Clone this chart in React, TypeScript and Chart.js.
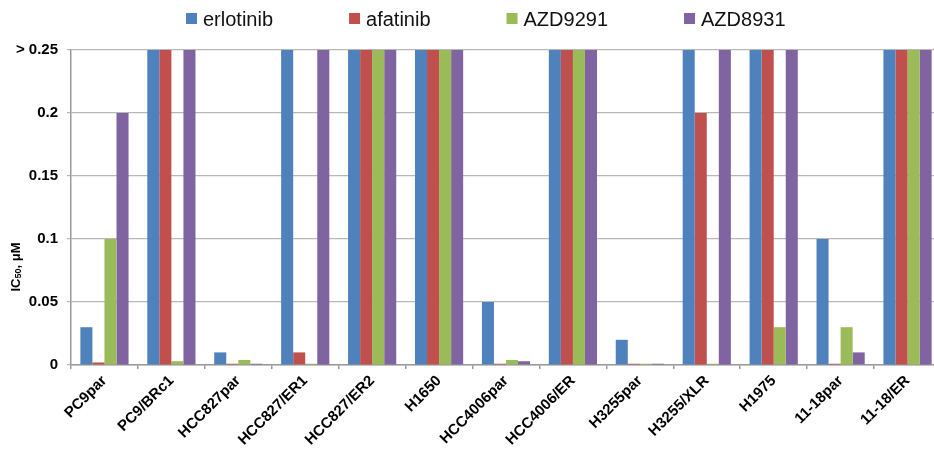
import React, { useEffect, useRef } from "react";
import { Chart, registerables } from "chart.js";

Chart.register(...registerables);

// Cell lines on the x axis
const cellLines = [
  "PC9par",
  "PC9/BRc1",
  "HCC827par",
  "HCC827/ER1",
  "HCC827/ER2",
  "H1650",
  "HCC4006par",
  "HCC4006/ER",
  "H3255par",
  "H3255/XLR",
  "H1975",
  "11-18par",
  "11-18/ER",
];

// IC50 values in µM; 0.25 stands for "> 0.25" (bar capped at the top of the axis)
const erlotinib = [0.03, 0.25, 0.01, 0.25, 0.25, 0.25, 0.05, 0.25, 0.02, 0.25, 0.25, 0.1, 0.25];
const afatinib = [0.002, 0.25, 0.001, 0.01, 0.25, 0.25, 0.001, 0.25, 0.001, 0.2, 0.25, 0.001, 0.25];
const azd9291 = [0.1, 0.003, 0.004, 0.001, 0.25, 0.25, 0.004, 0.25, 0.001, 0.001, 0.03, 0.03, 0.25];
const azd8931 = [0.2, 0.25, 0.001, 0.25, 0.25, 0.25, 0.003, 0.25, 0.001, 0.25, 0.25, 0.01, 0.25];

const seriesNames = ["erlotinib", "afatinib", "AZD9291", "AZD8931"];
const seriesColors = ["#4F81BD", "#C0504D", "#9BBB59", "#8064A2"];

const yMax = 0.25;
const yStep = 0.05;
const capLabel = "> 0.25";

const FONT = "'Liberation Sans', Arial, sans-serif";

// Legend row across the top, built from the datasets
const topLegend = {
  id: "topLegend",
  afterDraw(chart: any) {
    const ctx = chart.ctx;
    ctx.save();
    ctx.font = `20px ${FONT}`;
    ctx.textBaseline = "middle";
    ctx.textAlign = "left";
    let x = 186;
    const yMid = 19;
    chart.data.datasets.forEach((ds: any) => {
      ctx.fillStyle = ds.backgroundColor;
      ctx.fillRect(x, yMid - 6, 11, 11);
      ctx.fillStyle = "#111";
      ctx.fillText(ds.label, x + 17, yMid + 1);
      x += 17 + ctx.measureText(ds.label).width + 76;
    });
    ctx.restore();
  },
};

// Vertical axis title with subscripted "50"
const yTitle = {
  id: "yTitle",
  afterDraw(chart: any) {
    const ctx = chart.ctx;
    const parts = [
      { t: "IC", f: `bold 13px ${FONT}`, dy: 0 },
      { t: "50", f: `bold 9px ${FONT}`, dy: 3 },
      { t: ", μM", f: `bold 13px ${FONT}`, dy: 0 },
    ];
    ctx.save();
    let total = 0;
    parts.forEach((p) => {
      ctx.font = p.f;
      total += ctx.measureText(p.t).width;
    });
    ctx.translate(16, 267);
    ctx.rotate(-Math.PI / 2);
    ctx.textBaseline = "middle";
    ctx.textAlign = "left";
    ctx.fillStyle = "#000";
    let x = -total / 2;
    parts.forEach((p) => {
      ctx.font = p.f;
      ctx.fillText(p.t, x, p.dy);
      x += ctx.measureText(p.t).width;
    });
    ctx.restore();
  },
};

export default function App() {
  const canvasRef = useRef<HTMLCanvasElement | null>(null);

  useEffect(() => {
    const canvas = canvasRef.current;
    if (!canvas) return;
    const data = [erlotinib, afatinib, azd9291, azd8931];
    const chart = new Chart(canvas, {
      type: "bar",
      data: {
        labels: cellLines,
        datasets: data.map((values, i) => ({
          label: seriesNames[i],
          data: values,
          backgroundColor: seriesColors[i],
          borderWidth: 0,
          categoryPercentage: 0.72,
          barPercentage: 1.0,
        })),
      },
      options: {
        responsive: false,
        animation: false,
        devicePixelRatio: 1,
        layout: { padding: { top: 50, left: 0, right: 9, bottom: 0 } },
        plugins: {
          legend: { display: false },
          tooltip: { enabled: false },
        },
        scales: {
          x: {
            afterFit(scale: any) {
              scale.height = 89;
            },
            grid: {
              display: true,
              drawOnChartArea: false,
              drawTicks: true,
              tickLength: 4,
              color: "#9a9a9a",
              lineWidth: 1.5,
            },
            border: { display: true, color: "#9a9a9a", width: 1.5 },
            ticks: {
              autoSkip: false,
              minRotation: 45,
              maxRotation: 45,
              padding: 3,
              color: "#000",
              font: { family: FONT, size: 15, weight: "bold" },
            },
          },
          y: {
            min: 0,
            max: yMax,
            afterFit(scale: any) {
              scale.width = 71;
            },
            grid: {
              color: "#b8b8b8",
              lineWidth: 1.2,
              drawTicks: true,
              tickLength: 4,
            },
            border: { display: true, color: "#9a9a9a", width: 1.5 },
            ticks: {
              stepSize: yStep,
              padding: 9,
              color: "#000",
              font: { family: FONT, size: 15, weight: "bold" },
              callback(value: any) {
                const v = Number(Number(value).toFixed(2));
                return v >= yMax ? capLabel : String(v);
              },
            },
          },
        },
      },
      plugins: [topLegend, yTitle],
    });
    return () => chart.destroy();
  }, []);

  return (
    <div
      style={{
        position: "fixed",
        left: 0,
        top: 0,
        width: 934,
        height: 454,
        overflow: "hidden",
        background: "#fff",
      }}
    >
      <canvas ref={canvasRef} width={950} height={454} style={{ width: 950, height: 454, display: "block" }} />
    </div>
  );
}
